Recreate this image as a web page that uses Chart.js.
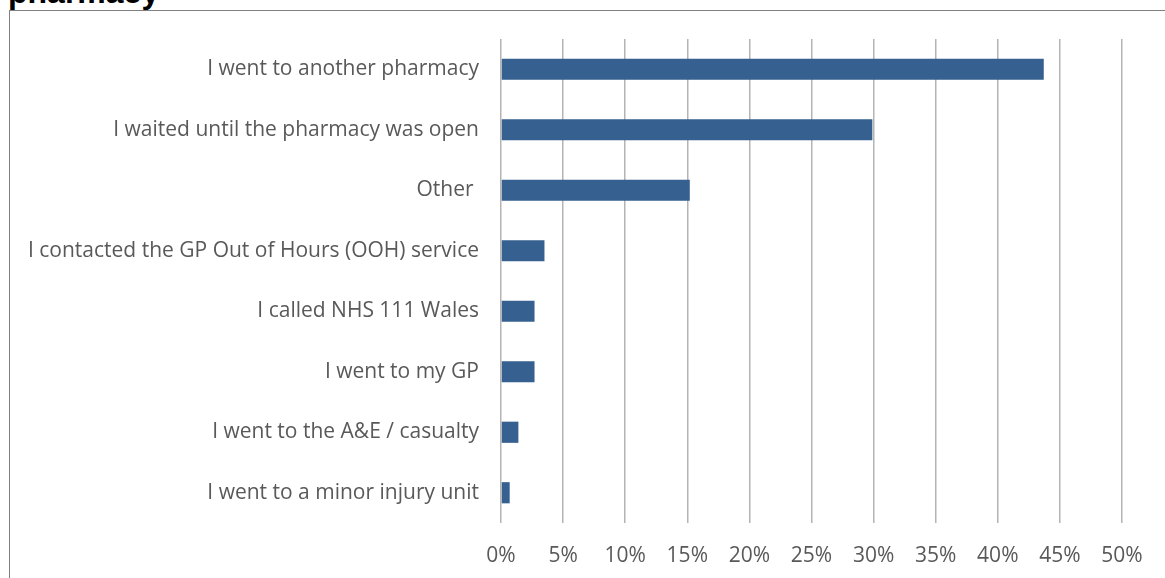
<!DOCTYPE html>
<html>
<head>
<meta charset="utf-8">
<script src="https://cdn.jsdelivr.net/npm/chart.js@4"></script>
<style>
  html, body { margin: 0; padding: 0; background: #fff; overflow: hidden; }
  body { width: 1165px; height: 578px; position: relative; }
  #title {
    position: absolute; left: 8px; top: -23px;
    font: bold 32px "Liberation Sans", Arial, sans-serif; line-height: 30px; color: #000;
  }
  #frame {
    position: absolute; left: 9px; top: 10px; width: 1200px; height: 600px;
    border: 1.5px solid #808080; box-sizing: border-box;
  }
  #wrap { position: absolute; left: 10px; top: 11px; width: 1155px; height: 567px; }
</style>
</head>
<body>
<div id="title">pharmacy</div>
<div id="frame"></div>
<div id="wrap"><canvas id="chart"></canvas></div>
<script>
const categories = [
  'I went to another pharmacy',
  'I waited until the pharmacy was open',
  'Other ',
  'I contacted the GP Out of Hours (OOH) service',
  'I called NHS 111 Wales',
  'I went to my GP',
  'I went to the A&E / casualty',
  'I went to a minor injury unit'
]
const shares = [43.7, 29.9, 15.2, 3.5, 2.7, 2.7, 1.4, 0.7]
const xTicks = [0, 5, 10, 15, 20, 25, 30, 35, 40, 45, 50]

const labelFont = { family: '"Open Sans", sans-serif', size: 21 }
const labelColor = '#595959'

const ctx = document.getElementById('chart').getContext('2d')

const chart = new Chart(ctx, {
    type: 'bar',
    data: {
        labels: categories,
        datasets: [{
            data: shares,
            backgroundColor: '#35608f',
            barPercentage: 0.35,
            categoryPercentage: 1
        }]
    },
    options: {
        indexAxis: 'y',
        responsive: true,
        maintainAspectRatio: false,
        animation: false,
        layout: { padding: { top: 28, right: 43, left: 0, bottom: 0 } },
        plugins: {
            legend: { display: false },
            tooltip: { enabled: false }
        },
        scales: {
            x: {
                min: 0,
                max: 50,
                afterBuildTicks: s => { s.ticks = xTicks.map(v => ({ value: v })) },
                afterFit: s => { s.height = 55; s.paddingLeft = 0; s.paddingRight = 0 },
                ticks: {
                    callback: v => v + '%',
                    color: labelColor,
                    font: labelFont,
                    padding: 20,
                    maxRotation: 0
                },
                grid: { color: '#b4b4b4', lineWidth: 1.5, drawTicks: false },
                border: { display: false }
            },
            y: {
                afterFit: s => { s.width = 491; s.paddingTop = 0; s.paddingBottom = 0 },
                ticks: {
                    color: labelColor,
                    font: labelFont,
                    padding: 22
                },
                grid: { display: false, drawTicks: false },
                border: { display: false }
            }
        }
    }
})
</script>
</body>
</html>
